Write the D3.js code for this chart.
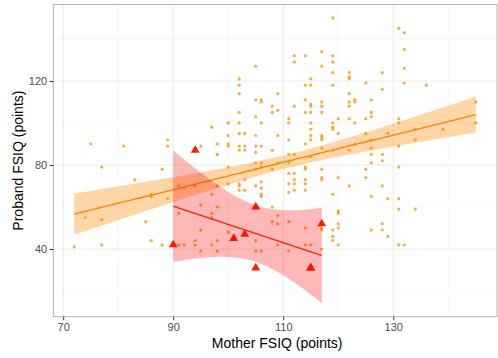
<!DOCTYPE html>
<html>
<head>
<meta charset="utf-8">
<script src="https://cdn.jsdelivr.net/npm/d3@7"></script>
<style>
body { margin: 0; background: #fff; }
text { font-family: "Liberation Sans", Arial, sans-serif; }
</style>
</head>
<body>
<div id="chart"></div>
<script>
// all families: mother FSIQ / proband FSIQ (orange dots)
var motherA = [
  72, 74, 75, 77, 77, 77, 81, 83, 85, 86, 86, 86, 88, 88, 89, 89, 89,
  91, 91, 91, 92, 92, 94, 94, 94, 95, 95, 95, 95,
  97, 97, 97, 97, 97, 98, 98, 98, 98, 98, 98,
  100, 100, 100, 100, 100, 100, 100,
  102, 102, 102, 102, 102, 102, 102, 102, 102, 102, 102,
  103, 103, 103, 103, 103,
  105, 105, 105, 105, 105, 105, 105, 105, 105, 105, 105,
  106, 106, 106, 106, 106, 106, 106, 106, 106, 106, 106,
  108, 108, 108, 108, 108, 108, 109, 109, 109, 109, 109, 109, 109,
  111, 111, 111, 111, 111, 111, 111, 111, 111, 111,
  112, 112, 112, 112, 112, 112, 112, 112,
  114, 114, 114, 114, 114, 114, 114, 114, 114, 114, 114, 114,
  115, 115, 115, 115, 115, 115, 115, 115, 115, 115, 115,
  117, 117, 117, 117, 117, 117, 117, 117, 117, 117, 117, 117, 117, 117, 117,
  119, 119, 119, 119, 119, 119, 119, 119, 119, 119, 119, 119, 119,
  120, 120, 120, 120, 120, 120, 120, 120,
  122, 122, 122, 122, 122, 122, 122, 122, 122,
  123, 123, 123, 123,
  125, 125, 125, 125, 125,
  126, 126, 126, 126, 126, 126, 126, 126, 126,
  128, 128, 128, 128, 128, 128, 128,
  129, 129, 129,
  131, 131, 131, 131, 131, 131, 131, 131,
  132, 132, 132, 132, 132,
  134, 134, 134,
  136, 139, 145, 145
];
var probandA = [
  41, 55, 90, 79, 54, 42, 89, 73, 53, 66, 65, 44, 78, 42, 92, 89, 64,
  70, 57, 42, 69, 42, 70, 44, 42, 89, 61, 49, 39,
  98, 66, 57, 55, 42, 90, 85, 70, 60, 44, 39,
  100, 94, 90, 89, 79, 71, 48,
  121, 118, 114, 105, 100, 95, 89, 87, 71, 70, 68,
  95, 89, 87, 73, 68,
  127, 111, 103, 94, 89, 86, 81, 78, 70, 44, 39,
  111, 110, 100, 89, 81, 79, 72, 69, 66, 65, 39,
  108, 105, 87, 78, 60, 53, 114, 106, 94, 81, 56, 52, 42,
  102, 100, 92, 85, 81, 76, 71, 67, 53, 39,
  132, 129, 108, 85, 76, 73, 71, 68,
  132, 118, 111, 105, 90, 79, 78, 73, 71, 68, 50, 42,
  121, 118, 109, 108, 105, 100, 97, 94, 92, 84, 42,
  134, 127, 110, 108, 105, 94, 93, 92, 88, 78, 74, 73, 50, 49, 40,
  150, 132, 129, 124, 118, 100, 98, 97, 87, 66, 49, 46, 44,
  102, 95, 74, 58, 57, 52, 50, 42,
  124, 122, 121, 114, 110, 108, 102, 87, 70,
  111, 110, 100, 90,
  119, 102, 95, 78, 74,
  111, 105, 103, 92, 88, 85, 81, 65, 49,
  124, 116, 85, 82, 70, 52, 49,
  95, 64, 46,
  145, 102, 100, 89, 79, 64, 59, 42,
  143, 135, 126, 119, 42,
  97, 92, 59,
  118, 97, 110, 100
];

// subgroup (red triangles); two families sit on the same spot at 115/31
var motherB = [90, 94, 101, 103, 105, 105, 115, 115, 117];
var probandB = [42, 87, 45, 47, 60, 31, 31, 31, 52];

var xTicks = [70, 90, 110, 130];
var yTicks = [40, 80, 120];
var xMinor = [80, 100, 120, 140];
var yMinor = [20, 60, 100, 140];

var svgWidth = 498;
var svgHeight = 358;

var margin = {top: 4.5, right: 1, bottom: 41.3, left: 53.3};
var width = svgWidth - margin.left - margin.right;
var height = svgHeight - margin.top - margin.bottom;

var svg = d3.select("#chart")
  .append("svg")
  .attr("width", svgWidth)
  .attr("height", svgHeight);

var chartGroup = svg.append("g")
  .attr("transform", `translate(${margin.left}, ${margin.top})`);

var x = d3.scaleLinear()
  .domain([68.2, 148.85])
  .range([0, width]);

var y = d3.scaleLinear()
  .domain([7.76, 156.4])
  .range([height, 0]);

// t quantile (0.975) via Cornish-Fisher expansion
function tQuant(df) {
  var z = 1.959964;
  var g1 = (Math.pow(z, 3) + z) / 4;
  var g2 = (5 * Math.pow(z, 5) + 16 * Math.pow(z, 3) + 3 * z) / 96;
  var g3 = (3 * Math.pow(z, 7) + 19 * Math.pow(z, 5) + 17 * Math.pow(z, 3) - 15 * z) / 384;
  var g4 = (79 * Math.pow(z, 9) + 776 * Math.pow(z, 7) + 1482 * Math.pow(z, 5) - 1920 * Math.pow(z, 3) - 945 * z) / 92160;
  return z + g1 / df + g2 / (df * df) + g3 / Math.pow(df, 3) + g4 / Math.pow(df, 4);
}

// linear fit with 95% confidence band, like geom_smooth(method = "lm")
function fitLine(xs, ys) {
  var n = xs.length;
  var mx = d3.mean(xs), my = d3.mean(ys);
  var sxx = d3.sum(xs, d => (d - mx) * (d - mx));
  var sxy = d3.sum(xs.map((d, i) => (d - mx) * (ys[i] - my)));
  var b = sxy / sxx, a = my - b * mx;
  var sse = d3.sum(xs.map((d, i) => Math.pow(ys[i] - (a + b * d), 2)));
  var s = Math.sqrt(sse / (n - 2));
  var t = tQuant(n - 2);
  var ext = d3.extent(xs);
  return d3.range(0, 81).map(function(k) {
    var x0 = ext[0] + (ext[1] - ext[0]) * k / 80;
    var fit = a + b * x0;
    var se = s * Math.sqrt(1 / n + (x0 - mx) * (x0 - mx) / sxx);
    return {x: x0, y: fit, lo: fit - t * se, hi: fit + t * se};
  });
}

// grid
chartGroup.selectAll(".minorx").data(xMinor).enter().append("line")
  .attr("x1", d => x(d)).attr("x2", d => x(d))
  .attr("y1", 0).attr("y2", height)
  .attr("stroke", "#f2f2f2").attr("stroke-width", 0.6);
chartGroup.selectAll(".minory").data(yMinor).enter().append("line")
  .attr("y1", d => y(d)).attr("y2", d => y(d))
  .attr("x1", 0).attr("x2", width)
  .attr("stroke", "#f2f2f2").attr("stroke-width", 0.6);
chartGroup.selectAll(".majorx").data(xTicks).enter().append("line")
  .attr("x1", d => x(d)).attr("x2", d => x(d))
  .attr("y1", 0).attr("y2", height)
  .attr("stroke", "#ebebeb").attr("stroke-width", 1.1);
chartGroup.selectAll(".majory").data(yTicks).enter().append("line")
  .attr("y1", d => y(d)).attr("y2", d => y(d))
  .attr("x1", 0).attr("x2", width)
  .attr("stroke", "#ebebeb").attr("stroke-width", 1.1);

// points
var orange = motherA.map((d, i) => ({m: d, p: probandA[i]}));
var red = motherB.map((d, i) => ({m: d, p: probandB[i]}));

chartGroup.selectAll(".pt").data(orange).enter().append("circle")
  .attr("cx", d => x(d.m))
  .attr("cy", d => y(d.p))
  .attr("r", 1.6)
  .attr("fill", "#ff8c00")
  .attr("opacity", 0.75);

chartGroup.selectAll(".tri").data(red).enter().append("path")
  .attr("d", d3.symbol().type(d3.symbolTriangle).size(34))
  .attr("transform", d => `translate(${x(d.m)}, ${y(d.p)})`)
  .attr("fill", "#ff1a00");

// smooths: orange fitted on every family, red on the subgroup
var area = d3.area().x(d => x(d.x)).y0(d => y(d.lo)).y1(d => y(d.hi));
var line = d3.line().x(d => x(d.x)).y(d => y(d.y));

var fitA = fitLine(motherA.concat(motherB), probandA.concat(probandB));
var fitB = fitLine(motherB, probandB);

chartGroup.append("path").attr("d", area(fitA))
  .attr("fill", "#ff8c00").attr("opacity", 0.35);
chartGroup.append("path").attr("d", line(fitA))
  .attr("fill", "none").attr("stroke", "#ff8000").attr("stroke-width", 1.3);

chartGroup.append("path").attr("d", area(fitB))
  .attr("fill", "#ff0000").attr("opacity", 0.28);
chartGroup.append("path").attr("d", line(fitB))
  .attr("fill", "none").attr("stroke", "#ff2000").attr("stroke-width", 1.3);

// border
chartGroup.append("rect")
  .attr("width", width).attr("height", height)
  .attr("fill", "none").attr("stroke", "#b3b3b3").attr("stroke-width", 1);

// axes
var bottomAxis = d3.axisBottom(x).tickValues(xTicks).tickSize(3.6).tickPadding(2.5);
var leftAxis = d3.axisLeft(y).tickValues(yTicks).tickSize(3.6).tickPadding(2.5);

var gx = chartGroup.append("g")
  .attr("transform", `translate(0, ${height})`)
  .call(bottomAxis);
var gy = chartGroup.append("g")
  .call(leftAxis);

[gx, gy].forEach(function(g) {
  g.select(".domain").remove();
  g.selectAll(".tick line").attr("stroke", "#333333");
  g.selectAll(".tick text")
    .attr("fill", "#4d4d4d")
    .attr("font-size", "11px")
    .attr("font-family", "Liberation Sans, Arial, sans-serif");
});

chartGroup.append("text")
  .attr("transform", "rotate(-90)")
  .attr("x", -height / 2)
  .attr("y", 23 - margin.left)
  .attr("text-anchor", "middle")
  .attr("font-size", "14px")
  .attr("fill", "#000")
  .text("Proband FSIQ (points)");

chartGroup.append("text")
  .attr("transform", `translate(${width / 2 + 2}, ${348 - margin.top})`)
  .attr("text-anchor", "middle")
  .attr("font-size", "14px")
  .attr("fill", "#000")
  .text("Mother FSIQ (points)");
</script>
</body>
</html>
